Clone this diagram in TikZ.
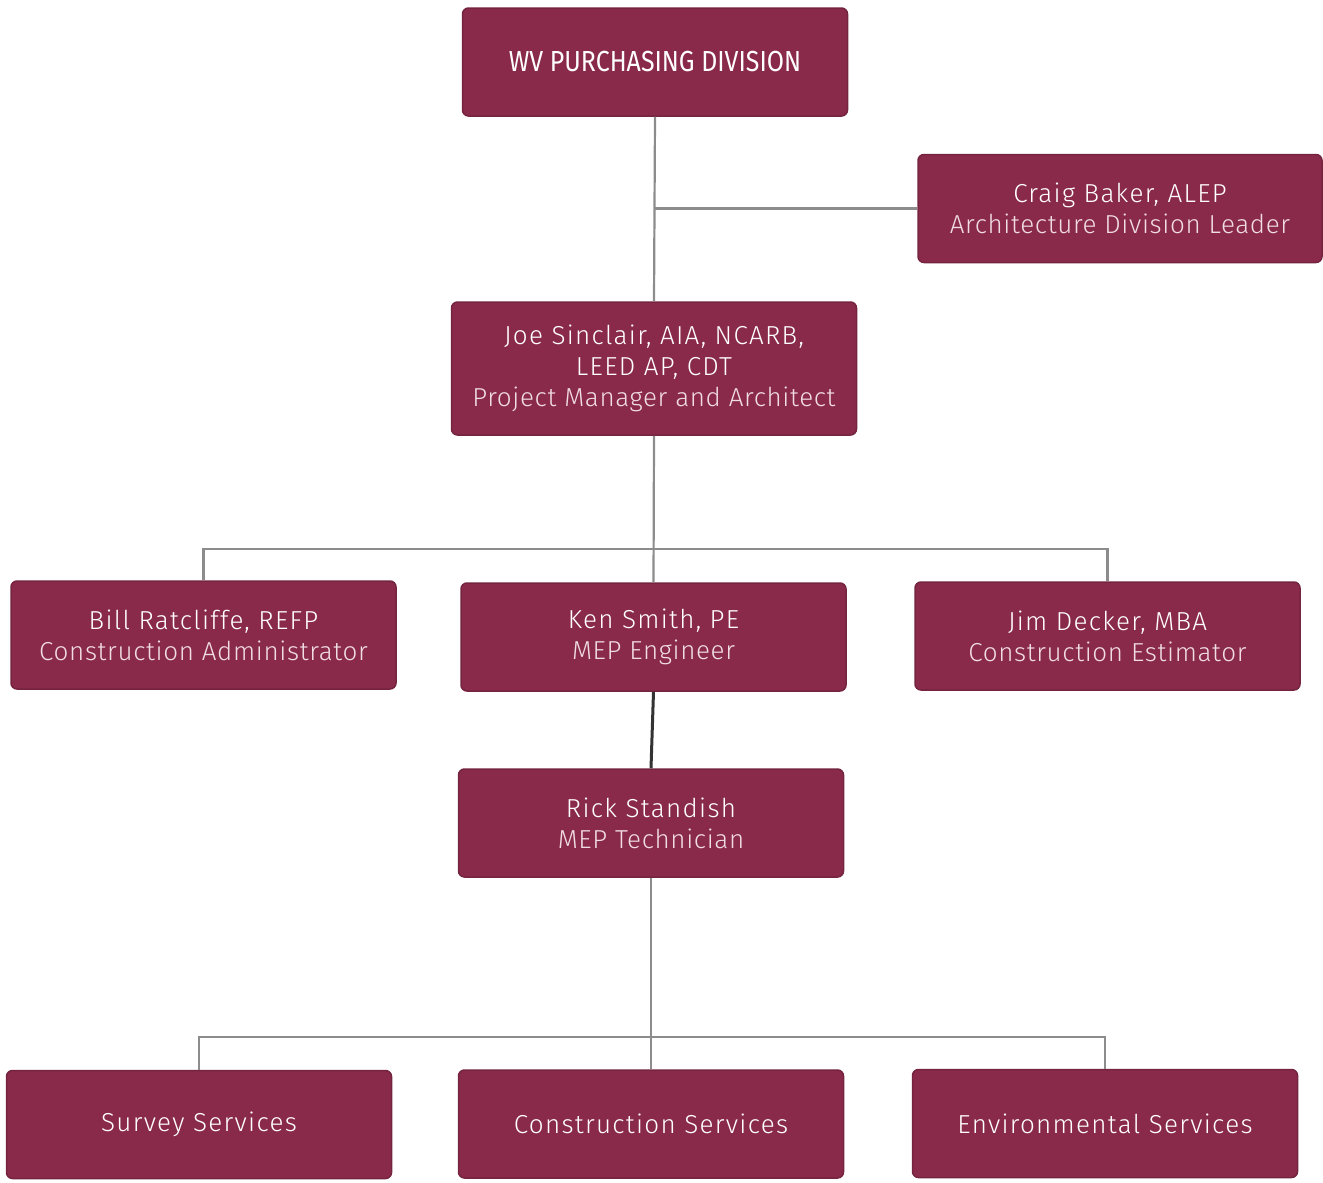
\documentclass[tikz,border=0pt]{standalone}
\usepackage{fontspec}
\setmainfont{Fira Sans Light}[LetterSpace=5]
\newfontfamily\lightf{Fira Sans Light}[LetterSpace=2.5]
\newfontfamily\medf{Fira Sans}
\definecolor{wine}{HTML}{8A2A4B}
\definecolor{subtxt}{HTML}{F0DCE3}
\definecolor{conn}{HTML}{8C8C8C}
\begin{document}
\begin{tikzpicture}[x=1pt,y=-1pt,
  box/.style={draw=wine!85!black, line width=1.5pt, fill=wine, rounded corners=6pt, minimum width=385pt, minimum height=108pt, inner sep=0pt, text=white, align=center, font=\fontsize{26}{31}\selectfont},
  conn/.style={draw=conn, line width=2.2pt},
  dark/.style={draw=black!80, line width=3pt}]
\useasboundingbox (0,0) rectangle (1323,1183);
\newcommand{\sub}[1]{{\lightf\color{subtxt}#1}}
\node[box] (wv) at (655,62) {\medf\scalebox{0.86}[1]{\fontsize{29}{31}\selectfont WV PURCHASING DIVISION}};
\node[box, minimum width=404pt] (craig) at (1120,208.5) {Craig Baker, ALEP\\\sub{Architecture Division Leader}};
\node[box, minimum width=405pt, minimum height=133pt] (joe) at (654,368.5) {Joe Sinclair, AIA, NCARB,\\LEED AP, CDT\\\sub{Project Manager and Architect}};
\node[box] (bill) at (203.5,635) {Bill Ratcliffe, REFP\\\sub{Construction Administrator}};
\node[box] (ken) at (653.5,637) {Ken Smith, PE\\\sub{MEP Engineer}};
\node[box] (jim) at (1107.5,636) {Jim Decker, MBA\\\sub{Construction Estimator}};
\node[box] (rick) at (651,823) {Rick Standish\\\sub{MEP Technician}};
\node[box] (survey) at (199,1124.5) {Survey Services};
\node[box] (cons) at (651,1124) {Construction Services};
\node[box] (env) at (1105,1123.5) {Environmental Services};
\coordinate (bus1) at (653,549);
\coordinate (bus2) at (651,1037);
\draw[conn] (wv.south) -- (joe.north);
\draw[conn] (craig.west) -- (craig.west -| wv.south);
\draw[conn] (joe.south) -- (ken.north);
\draw[conn] (bill.north) |- (bus1) -| (jim.north);
\draw[dark] (ken.south) -- (rick.north);
\draw[conn] (rick.south) -- (cons.north);
\draw[conn] (survey.north) |- (bus2) -| (env.north);
\end{tikzpicture}
\end{document}
